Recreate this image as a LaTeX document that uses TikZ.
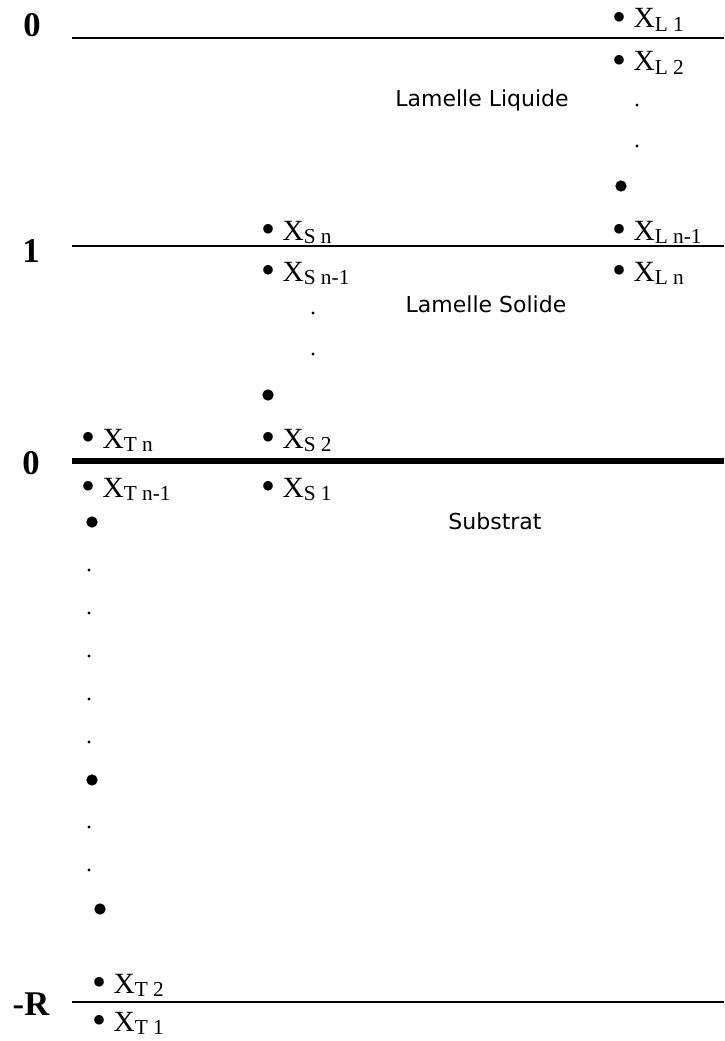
\documentclass[tikz,border=0pt]{standalone}
\usepackage{fontspec}
\setmainfont{Liberation Serif}
\newfontfamily\regionfont{DejaVu Sans}
% bullet, X and a lowered subscript such as "L n-1"
\newcommand\sitelabel[1]{\raisebox{-1.6pt}[0pt][0pt]{\fontsize{30}{30}\selectfont\textbullet}\ X\raisebox{-2.6pt}{\fontsize{16}{16}\selectfont #1}}
\begin{document}
\begin{tikzpicture}[x=0.75pt,y=-0.75pt,
  level/.style={line width=1.9pt},
  interface/.style={line width=3.8pt},
  axislbl/.style={inner sep=0pt, font=\fontsize{26}{26}\selectfont\bfseries},
  site/.style={anchor=base west, inner sep=0pt, font=\fontsize{22}{22}\selectfont},
  region/.style={anchor=base, inner sep=0pt, font=\regionfont\fontsize{16.5}{16.5}\selectfont},
  bigdot/.style={fill, circle, inner sep=0pt, minimum size=8.5pt},
  smalldot/.style={fill, circle, inner sep=0pt, minimum size=2.4pt}
]
\useasboundingbox (0,0) rectangle (724,1041);

% horizontal levels
\coordinate (topL) at (72,38);   \coordinate (topR) at (724,38);
\coordinate (oneL) at (72,246);  \coordinate (oneR) at (724,246);
\coordinate (midL) at (72,461);  \coordinate (midR) at (724,461);
\coordinate (botL) at (72,1002); \coordinate (botR) at (724,1002);
\draw[level] (topL) -- (topR);
\draw[level] (oneL) -- (oneR);
\draw[interface] (midL) -- (midR);
\draw[level] (botL) -- (botR);

% level values
\node[axislbl] (vtop) at (32,25) {0};
\node[axislbl] (vone) at (31,251) {1};
\node[axislbl] (vmid) at (31,463) {0};
\node[axislbl] (vbot) at (31,1004) {-R};

% region names
\node[region] (liq) at (482,107) {Lamelle Liquide};
\node[region] (sol) at (486,312) {Lamelle Solide};
\node[region] (sub) at (495,529) {Substrat};

% liquid column
\node[site] (xl1) at (612,28) {\sitelabel{L 1}};
\node[site] (xl2) at (612,71) {\sitelabel{L 2}};
\node[smalldot] (ld1) at (637,105) {};
\node[smalldot] (ld2) at (637,146) {};
\node[bigdot] (lb) at (621,186) {};
\node[site] (xlm) at (612,240) {\sitelabel{L n-1}};
\node[site] (xln) at (612,281) {\sitelabel{L n}};

% solid column
\node[site] (xsn) at (261,240) {\sitelabel{S n}};
\node[site] (xsm) at (261,281) {\sitelabel{S n-1}};
\node[smalldot] (sd1) at (313,313) {};
\node[smalldot] (sd2) at (313,354) {};
\node[bigdot] (sb) at (268,395) {};
\node[site] (xs2) at (261,448) {\sitelabel{S 2}};
\node[site] (xs1) at (261,497) {\sitelabel{S 1}};

% substrate column
\node[site] (xtn) at (81,448) {\sitelabel{T n}};
\node[site] (xtm) at (81,497) {\sitelabel{T n-1}};
\node[bigdot] (tb1) at (92,522) {};
\node[smalldot] (td1) at (89,570) {};
\node[smalldot] (td2) at (89,613) {};
\node[smalldot] (td3) at (89,656) {};
\node[smalldot] (td4) at (89,699) {};
\node[smalldot] (td5) at (89,742) {};
\node[bigdot] (tb2) at (92,780) {};
\node[smalldot] (td6) at (89,827) {};
\node[smalldot] (td7) at (89,870) {};
\node[bigdot] (tb3) at (100,909) {};
\node[site] (xt2) at (92,993) {\sitelabel{T 2}};
\node[site] (xt1) at (92,1031) {\sitelabel{T 1}};
\end{tikzpicture}
\end{document}
